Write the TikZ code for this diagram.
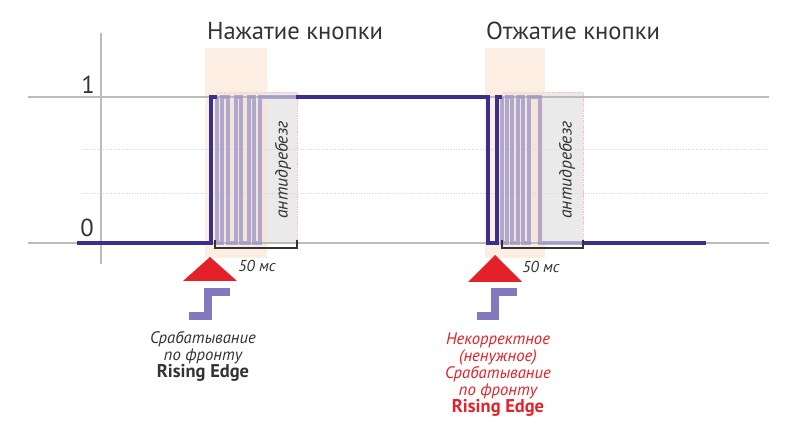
\documentclass[tikz,border=0pt]{standalone}
\usepackage{fontspec}
\setmainfont{PT Sans}
\usetikzlibrary{positioning}
\definecolor{signal}{HTML}{3B2F8E}
\definecolor{bounce}{HTML}{9A93C8}
\definecolor{peach}{HTML}{FCE2D0}
\definecolor{boxgrey}{HTML}{EAEAEA}
\definecolor{alarm}{HTML}{E42129}
\definecolor{stepviolet}{HTML}{8478BE}
\definecolor{textgrey}{HTML}{333333}
\definecolor{gridgrey}{HTML}{BBBBBB}
\newcommand\edgefont{\fontsize{10.5}{10}\selectfont\bfseries\upshape}

\begin{document}
\begin{tikzpicture}[x=0.02cm,y=-0.02cm,
  lvl/.style={gridgrey, line width=0.8pt},
  sublvl/.style={gridgrey!60, line width=0.5pt, densely dotted},
  sig/.style={signal, line width=2.3pt},
  chatter/.style={bounce, line width=1.9pt, opacity=0.75},
  band/.style={fill=peach, opacity=0.6},
  debbox/.style={fill=boxgrey, draw=red!25, densely dotted, line width=0.4pt},
  bracket/.style={textgrey, line width=0.8pt},
  trig/.style={fill=alarm},
  stepicon/.style={stepviolet, line width=4.5pt},
  title/.style={font=\fontsize{14}{16}\selectfont, text=textgrey},
  lvllabel/.style={font=\fontsize{14}{16}\selectfont, text=textgrey},
  ms/.style={font=\fontsize{9}{10}\selectfont\itshape, text=textgrey},
  deblabel/.style={font=\fontsize{10}{12}\selectfont\itshape, text=textgrey, rotate=90},
  note/.style={align=center, font=\fontsize{9.5}{9.7}\selectfont\itshape, inner sep=0pt}
]
\useasboundingbox (0,0) rectangle (800,428);

% debounce windows
\fill[debbox] (216,92) rectangle (297,243);
\fill[debbox] (502,92) rectangle (583,243);
\draw[debbox, fill=none] (216,243) -- (216,92) -- (297,92) -- (297,243);
\draw[debbox, fill=none] (502,243) -- (502,92) -- (583,92) -- (583,243);
\fill[band] (205,48) rectangle (267,258);
\fill[band] (485,48) rectangle (545,258);

% grid
\draw[lvl] (28,97) -- (769,97);
\draw[lvl] (28,243) -- (769,243);
\draw[sublvl] (82,149) -- (769,149);
\draw[sublvl] (82,193) -- (769,193);
\draw[lvl] (101,33) -- (101,264);

% contact bounce
\draw[chatter] (217,97) -- (217,243) -- (222,243) -- (222,97) -- (228,97) -- (228,243) -- (236,243) -- (236,97) -- (241,97) -- (241,243) -- (249,243) -- (249,97) -- (254,97) -- (254,243) -- (260,243) -- (260,97) -- (296,97);
\draw[chatter] (502,97) -- (502,243) -- (507,243) -- (507,97) -- (512,97) -- (512,243) -- (518,243) -- (518,97) -- (523,97) -- (523,243) -- (529,243) -- (529,97) -- (540,97) -- (540,243) -- (582,243);

% signal
\draw[sig] (77,243) -- (211,243) -- (211,97) -- (217,97);
\draw[sig] (296,97) -- (488,97) -- (488,243) -- (497,243) -- (497,97) -- (502,97);
\draw[sig] (582,243) -- (706,243);

% 50 ms brackets
\draw[bracket] (215,240) -- (215,248) -- (297,248) -- (297,240);
\draw[bracket] (502,240) -- (502,248) -- (583,248) -- (583,240);

% triggers
\fill[trig] (183,281) -- (210,257) -- (237,281) -- cycle;
\fill[trig] (468,282) -- (495,255) -- (522,282) -- cycle;
\draw[stepicon] (189,316) -- (208,316) -- (208,292) -- (230,292);
\draw[stepicon] (477,316) -- (495,316) -- (495,292) -- (517,292);

% labels
\node[title] (press) at (295,31) {Нажатие кнопки};
\node[title] (release) at (573,31) {Отжатие кнопки};
\node[lvllabel] (one) at (88,85) {1};
\node[lvllabel] (zero) at (87,228) {0};
\node[deblabel] (deb1) at (283,170) {антидребезг};
\node[deblabel] (deb2) at (567,170) {антидребезг};
\node[ms] (ms1) at (257,266) {50 мс};
\node[ms] (ms2) at (541,267) {50 мс};
\node[note, text=textgrey, anchor=north] (good) at (203,331)
  {Срабатывание\\по фронту\\{\edgefont Rising Edge}};
\node[note, text=alarm, anchor=north] (bad) at (498,332)
  {Некорректное\\(ненужное)\\Срабатывание\\по фронту\\{\edgefont Rising Edge}};
\end{tikzpicture}
\end{document}
